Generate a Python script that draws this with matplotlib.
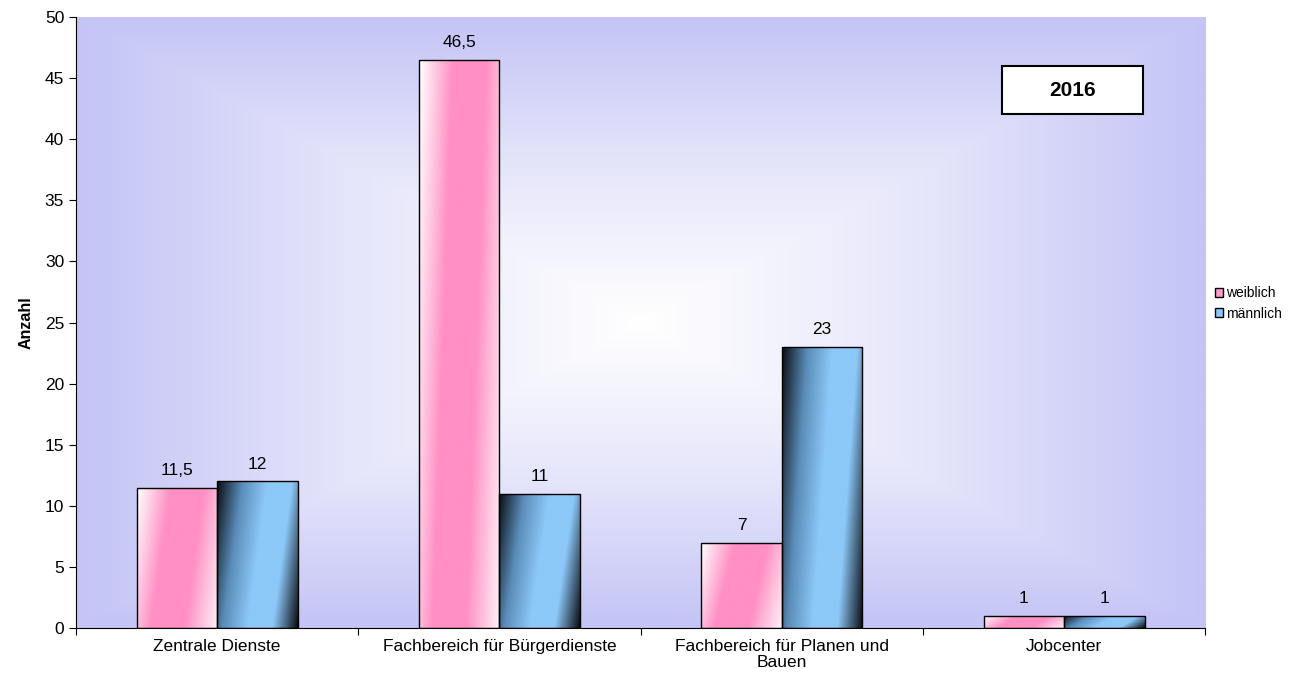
import matplotlib
matplotlib.use('Agg')
import matplotlib.pyplot as plt
import numpy as np
from matplotlib.colors import LinearSegmentedColormap
from matplotlib.patches import Patch, Rectangle

plt.rcParams['font.family'] = ['Liberation Sans', 'DejaVu Sans']

categories = ['Zentrale Dienste', 'Fachbereich für Bürgerdienste',
              'Fachbereich für Planen und\nBauen', 'Jobcenter']
weiblich = [11.5, 46.5, 7, 1]
maennlich = [12, 11, 23, 1]
labels_w = ['11,5', '46,5', '7', '1']
labels_m = ['12', '11', '23', '1']

pink_cmap = LinearSegmentedColormap.from_list('pink', ['#ffffff', '#ff8fc4', '#ff8fc4', '#fff0f6'])
blue_cmap = LinearSegmentedColormap.from_list('blue', ['#0a0e14', '#5a8cb8', '#8cc8f8', '#8cc8f8', '#0a0e14'])
bg_cmap = LinearSegmentedColormap.from_list('bg', ['#ffffff', '#e6e6fb', '#c4c4f6'])

fig = plt.figure(figsize=(13.1, 6.82), dpi=100)
ax = fig.add_axes([0.058, 0.079, 0.862, 0.896])

x = np.arange(len(categories))
w = 0.285
ax.set_xlim(-0.5, 3.5)
ax.set_ylim(0, 50)

# Hintergrund: rechteckiger Verlauf von der Mitte
gx, gy = np.meshgrid(np.linspace(-1, 1, 300), np.linspace(-1, 1, 300))
g = np.maximum(np.abs(gx), np.abs(gy))
ax.imshow(g, cmap=bg_cmap, extent=[-0.5, 3.5, 0, 50], aspect='auto', zorder=0, vmin=0, vmax=1)

# diagonaler Verlauf in den Balken
dx, dy = np.meshgrid(np.linspace(0, 1, 100), np.linspace(0, 1, 200))
diag = np.clip(dx * 0.8 + (1 - dy) * 0.2, 0, 1)

bars_w = ax.bar(x - w / 2, weiblich, w, facecolor='none', edgecolor='black', linewidth=1, zorder=3)
bars_m = ax.bar(x + w / 2, maennlich, w, facecolor='none', edgecolor='black', linewidth=1, zorder=3)

for bars, cmap in [(bars_w, pink_cmap), (bars_m, blue_cmap)]:
    for b in bars:
        x0, y0 = b.get_x(), b.get_y()
        im = ax.imshow(diag, cmap=cmap, extent=[x0, x0 + b.get_width(), y0, y0 + b.get_height()],
                       aspect='auto', zorder=2, origin='lower', vmin=0, vmax=1)
        im.set_clip_path(b)

for b, t in zip(bars_w, labels_w):
    ax.text(b.get_x() + b.get_width() / 2, b.get_height() + 0.8, t, ha='center', va='bottom', fontsize=12.5)
for b, t in zip(bars_m, labels_m):
    ax.text(b.get_x() + b.get_width() / 2, b.get_height() + 0.8, t, ha='center', va='bottom', fontsize=12.5)

ax.set_xticks(np.arange(-0.5, 4, 1))
ax.set_xticklabels([])
ax.set_xticks(x, minor=True)
ax.set_xticklabels(categories, minor=True, fontsize=12.5, linespacing=1.1)
ax.tick_params(axis='x', which='minor', length=0, pad=8)
ax.tick_params(axis='x', which='major', length=5, direction='out')
ax.set_yticks(np.arange(0, 51, 5))
ax.tick_params(axis='y', labelsize=12.5, length=5)
ax.set_ylabel('Anzahl', fontsize=11.5, fontweight='bold', labelpad=8)

for s in ['top', 'right']:
    ax.spines[s].set_visible(False)

ax.add_patch(Rectangle((0.820, 0.841), 0.125, 0.079, transform=ax.transAxes,
                       facecolor='white', edgecolor='black', linewidth=1.5, zorder=5))
ax.text(0.8825, 0.8805, '2016', transform=ax.transAxes, ha='center', va='center',
        fontsize=15, fontweight='bold', zorder=6)

handles = [Patch(facecolor='#ff9ccb', edgecolor='black', label='weiblich'),
           Patch(facecolor='#8cc8f8', edgecolor='black', label='männlich')]
fig.legend(handles=handles, loc='center left', bbox_to_anchor=(0.918, 0.555), frameon=False,
           fontsize=10, handlelength=0.6, handleheight=0.6, handletextpad=0.2, labelspacing=0.45)

fig.savefig('out.png', dpi=100)
